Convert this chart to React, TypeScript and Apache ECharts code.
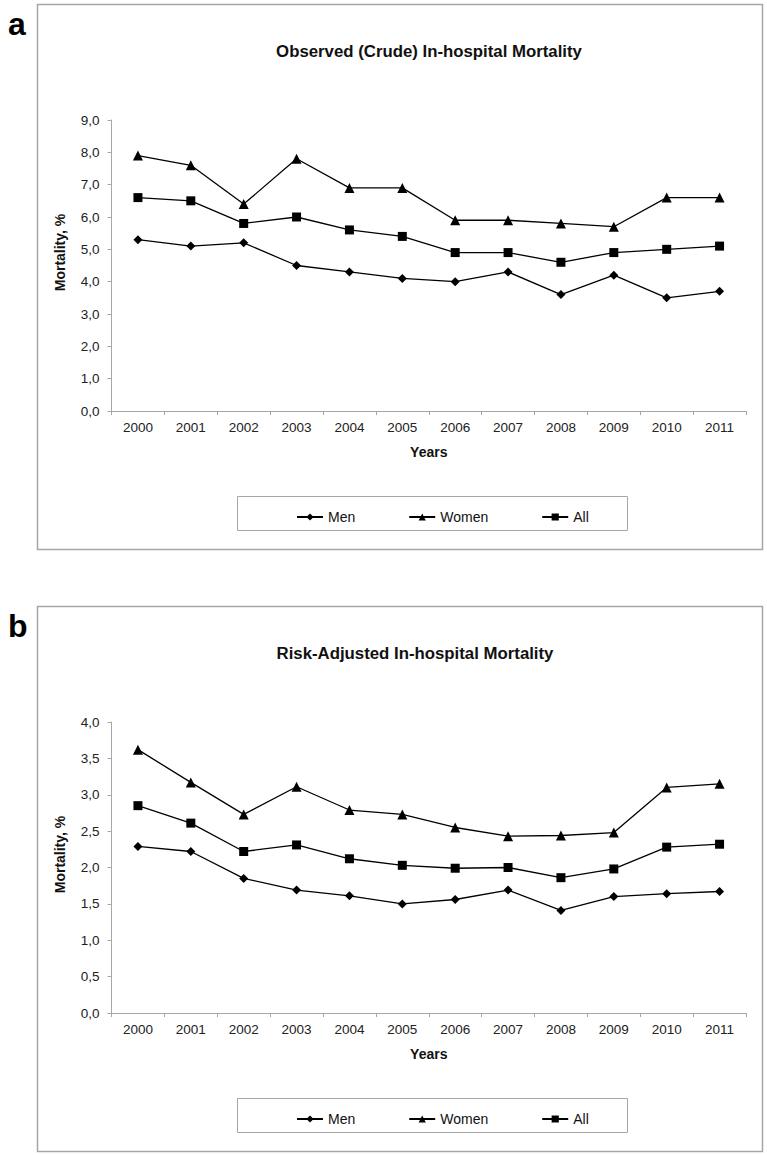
import React, { useEffect, useRef } from "react";
import * as echarts from "echarts";

const years = ["2000", "2001", "2002", "2003", "2004", "2005", "2006", "2007", "2008", "2009", "2010", "2011"];

const crudeMen = [5.3, 5.1, 5.2, 4.5, 4.3, 4.1, 4.0, 4.3, 3.6, 4.2, 3.5, 3.7];
const crudeWomen = [7.9, 7.6, 6.4, 7.8, 6.9, 6.9, 5.9, 5.9, 5.8, 5.7, 6.6, 6.6];
const crudeAll = [6.6, 6.5, 5.8, 6.0, 5.6, 5.4, 4.9, 4.9, 4.6, 4.9, 5.0, 5.1];

const adjMen = [2.29, 2.22, 1.85, 1.69, 1.61, 1.5, 1.56, 1.69, 1.41, 1.6, 1.64, 1.67];
const adjWomen = [3.62, 3.17, 2.73, 3.11, 2.79, 2.73, 2.55, 2.43, 2.44, 2.48, 3.1, 3.15];
const adjAll = [2.85, 2.61, 2.22, 2.31, 2.12, 2.03, 1.99, 2.0, 1.86, 1.98, 2.28, 2.32];

const seriesNames = ["Men", "Women", "All"];
const titles = ["Observed (Crude) In-hospital Mortality", "Risk-Adjusted In-hospital Mortality"];
const panelLetters = ["a", "b"];

const FONT = "'Liberation Sans', Arial, sans-serif";
const GRAY = "#a6a6a6";
const OFF = 602; // vertical offset between the two panels

export default function App() {
  const ref = useRef<HTMLDivElement>(null);
  useEffect(() => {
    const chart = echarts.init(ref.current!, null, { renderer: "svg" });

    const mkX = (gi: number) => ({
      type: "category",
      gridIndex: gi,
      data: years,
      boundaryGap: true,
      name: "Years",
      nameLocation: "middle",
      nameGap: 34,
      nameTextStyle: { fontFamily: FONT, fontWeight: "bold", fontSize: 14, color: "#111" },
      axisLine: { lineStyle: { color: GRAY, width: 1 } },
      axisTick: { show: true, length: 4, lineStyle: { color: GRAY } },
      axisLabel: { fontFamily: FONT, fontSize: 13.5, color: "#222", margin: 9 },
      splitLine: { show: false },
    });
    const mkY = (gi: number, max: number, interval: number) => ({
      type: "value",
      gridIndex: gi,
      min: 0,
      max,
      interval,
      name: "Mortality, %",
      nameLocation: "middle",
      nameGap: 44.5,
      nameRotate: 90,
      nameTextStyle: { fontFamily: FONT, fontWeight: "bold", fontSize: 14, color: "#111", padding: [0, 0, 0, 26] },
      axisLine: { show: true, lineStyle: { color: GRAY, width: 1 } },
      axisTick: { show: true, length: 4, lineStyle: { color: GRAY } },
      axisLabel: {
        fontFamily: FONT,
        fontSize: 13.5,
        color: "#222",
        margin: 12,
        formatter: (v: number) => v.toFixed(1).replace(".", ","),
      },
      splitLine: { show: false },
    });

    const symbols = ["diamond", "triangle", "rect"];
    const sizes = [9, 10, 9];
    const mkSeries = (gi: number, datas: number[][]) =>
      datas.map((d, i) => ({
        type: "line",
        name: seriesNames[i],
        xAxisIndex: gi,
        yAxisIndex: gi,
        data: d,
        symbol: symbols[i],
        symbolSize: sizes[i],
        showSymbol: true,
        lineStyle: { color: "#000", width: 1.3 },
        itemStyle: { color: "#000" },
      }));

    const mkLegend = (top: number) => ({
      top,
      left: 291,
      orient: "horizontal",
      data: seriesNames,
      selectedMode: false,
      itemWidth: 26,
      itemHeight: 9,
      itemGap: 53,
      textStyle: { fontFamily: FONT, fontSize: 14, color: "#111" },
    });

    const titleStyle = { fontFamily: FONT, fontWeight: "bold", fontSize: 16.8, color: "#111" };

    const option: any = {
      animation: false,
      backgroundColor: "#fff",
      title: [
        { text: titles[0], left: 424, textAlign: "center", top: 38, textStyle: titleStyle },
        { text: titles[1], left: 410, textAlign: "center", top: 38 + OFF, textStyle: titleStyle },
      ],
      legend: [mkLegend(505), mkLegend(505 + OFF)],
      grid: [
        { left: 111.5, top: 120, width: 634.5, height: 291, containLabel: false },
        { left: 111.5, top: 120 + OFF, width: 634.5, height: 291, containLabel: false },
      ],
      xAxis: [mkX(0), mkX(1)],
      yAxis: [mkY(0, 9, 1), mkY(1, 4, 0.5)],
      series: [
        ...mkSeries(0, [crudeMen, crudeWomen, crudeAll]),
        ...mkSeries(1, [adjMen, adjWomen, adjAll]),
      ],
      graphic: [
        { type: "rect", shape: { x: 37.5, y: 4.5, width: 725, height: 545 }, style: { fill: "none", stroke: GRAY, lineWidth: 1.5 }, z: -1 },
        { type: "rect", shape: { x: 37.5, y: 4.5 + OFF, width: 725, height: 545 }, style: { fill: "none", stroke: GRAY, lineWidth: 1.5 }, z: -1 },
        { type: "rect", shape: { x: 237.5, y: 496.5, width: 390, height: 34 }, style: { fill: "none", stroke: GRAY, lineWidth: 1 }, z: -1 },
        { type: "rect", shape: { x: 237.5, y: 496.5 + OFF, width: 390, height: 34 }, style: { fill: "none", stroke: GRAY, lineWidth: 1 }, z: -1 },
        { type: "text", left: 8, top: 8, style: { text: panelLetters[0], font: `bold 32px ${FONT}`, fill: "#000" } },
        { type: "text", left: 8, top: 8 + OFF, style: { text: panelLetters[1], font: `bold 32px ${FONT}`, fill: "#000" } },
      ],
    };

    chart.setOption(option);
    return () => chart.dispose();
  }, []);
  return (
    <div
      ref={ref}
      style={{ position: "absolute", left: 0, top: 0, width: 767, height: 1155, background: "#fff" }}
    />
  );
}
